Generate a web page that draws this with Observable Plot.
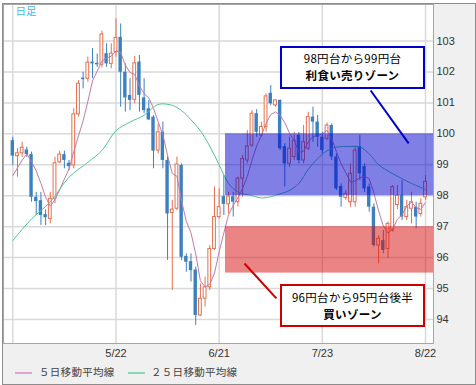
<!DOCTYPE html>
<html><head><meta charset="utf-8">
<script src="https://cdn.jsdelivr.net/npm/d3@7"></script>
<script src="https://cdn.jsdelivr.net/npm/@observablehq/plot@0.6"></script>
<style>
body{margin:0;background:#fff;}
#wrap{position:relative;width:476px;height:385px;overflow:hidden;font-family:"Liberation Sans",Arial,sans-serif;}
#bg{position:absolute;left:2px;top:3px;width:474px;height:382px;box-sizing:border-box;border:1px solid #8c8c8c;background:#f0f0f0;}
#chart{position:absolute;left:0;top:0;}
.box{position:absolute;box-sizing:border-box;border:2px solid;background:#fff;text-align:center;font-family:"Noto Sans CJK JP",sans-serif;font-size:11.5px;letter-spacing:0.3px;color:#000;line-height:16.8px;white-space:nowrap;}
.box div{height:16.8px;}
.box b{font-weight:700;}
.leg{position:absolute;font-family:"Noto Sans CJK JP",sans-serif;font-size:10.5px;letter-spacing:0.3px;color:#444;line-height:12px;white-space:nowrap;}
.legline{position:absolute;height:2px;}
</style></head>
<body>
<div id="wrap">
  <div id="bg"></div>
  <div id="chart"></div>
  <div class="box" style="left:280px;top:46px;width:145px;height:43px;border-color:#0000cc;padding-top:2px;"><div>98円台から99円台</div><div><b>利食い売りゾーン</b></div></div>
  <div class="box" style="left:280px;top:284px;width:145px;height:43px;border-color:#cc0000;padding-top:3px;"><div>96円台から95円台後半</div><div><b>買いゾーン</b></div></div>
  <div class="legline" style="left:15px;top:372px;width:17px;background:#dba6cc;"></div>
  <div class="leg" style="left:39px;top:366px;">５日移動平均線</div>
  <div class="legline" style="left:128px;top:372px;width:17px;background:#86dab6;"></div>
  <div class="leg" style="left:151px;top:366px;">２５日移動平均線</div>
</div>
<script>
// Daily candles (index 0 = 4/22 ... 88 = 8/22)
const open = [
99.78, 99.28, 99.37, 99.48, 99.33, 97.95, 97.84, 97.39, 97.25, 97.90,
99.08, 99.33, 99.05, 98.98, 100.63, 101.80, 101.78, 102.32, 102.28, 102.23,
102.59, 102.26, 102.64, 103.12, 101.99, 101.24, 101.10, 102.32, 101.16, 100.81,
100.54, 99.46, 100.05, 99.14, 97.44, 97.58, 98.98, 96.04, 95.87, 95.60,
94.13, 94.67, 95.04, 96.28, 97.31, 97.97, 97.72, 97.97, 97.79, 98.55,
99.14, 99.62, 100.65, 99.95, 100.22, 101.31, 100.92, 101.08, 99.59, 99.03,
99.25, 99.95, 99.14, 99.52, 100.54, 100.38, 99.89, 99.84, 100.27, 99.25,
98.30, 97.93, 97.79, 97.79, 99.59, 98.94, 98.28, 97.63, 96.39, 96.55,
96.28, 96.88, 97.70, 98.01, 97.31, 97.58, 97.63, 97.41, 97.95];
const high = [
99.89, 99.52, 99.73, 99.57, 99.41, 98.11, 98.11, 97.54, 98.11, 99.24,
99.44, 99.44, 99.14, 100.81, 101.72, 101.99, 102.48, 102.75, 102.58, 103.32,
102.91, 102.91, 103.72, 103.55, 102.26, 101.78, 102.50, 102.53, 101.78, 101.08,
100.59, 100.32, 100.38, 99.25, 97.85, 99.25, 99.03, 96.12, 96.12, 95.69,
95.15, 95.37, 96.39, 98.28, 98.22, 98.65, 98.11, 98.11, 98.60, 99.30,
100.11, 100.75, 100.78, 100.38, 101.29, 101.56, 101.10, 101.10, 99.68, 99.89,
100.05, 100.05, 100.27, 100.70, 100.86, 100.59, 100.05, 100.35, 100.32, 99.35,
98.38, 98.17, 99.03, 99.59, 99.95, 99.03, 98.38, 97.74, 96.71, 96.88,
97.15, 98.33, 98.33, 98.49, 97.85, 98.11, 97.79, 97.90, 98.65];
const low = [
98.98, 98.60, 99.24, 99.24, 97.79, 97.36, 97.04, 97.04, 97.09, 97.74,
99.03, 98.87, 98.81, 98.87, 100.54, 101.45, 101.67, 101.78, 102.15, 102.13,
102.15, 102.10, 102.48, 100.86, 100.70, 100.75, 100.97, 100.70, 100.65, 100.43,
98.87, 99.35, 98.87, 95.91, 94.94, 97.52, 95.91, 95.53, 95.21, 93.81,
94.10, 94.40, 94.94, 96.23, 97.25, 97.36, 97.41, 97.31, 97.63, 97.95,
99.03, 99.57, 99.89, 99.89, 100.05, 100.92, 100.86, 99.46, 98.28, 98.92,
99.14, 99.03, 99.03, 99.46, 99.73, 99.57, 99.35, 99.78, 99.14, 98.17,
97.63, 97.85, 97.63, 97.63, 98.49, 98.11, 97.47, 96.34, 95.80, 96.12,
95.96, 96.82, 97.55, 97.20, 97.20, 97.09, 96.93, 97.31, 97.85];
const close = [
99.28, 99.37, 99.55, 99.33, 97.95, 97.81, 97.36, 97.29, 97.90, 99.05,
99.33, 99.14, 98.94, 100.63, 101.62, 101.75, 102.30, 102.26, 102.23, 103.21,
102.26, 102.59, 103.10, 101.99, 101.16, 101.08, 102.28, 101.24, 100.75, 100.45,
99.44, 100.05, 99.14, 97.41, 97.55, 99.01, 96.01, 95.85, 95.58, 94.13,
94.67, 95.04, 96.28, 97.31, 97.63, 97.72, 97.97, 97.79, 98.55, 99.19,
99.59, 100.65, 100.05, 100.22, 101.21, 100.97, 101.08, 99.52, 99.03, 99.52,
99.78, 99.14, 99.73, 100.54, 100.38, 99.89, 99.46, 100.27, 99.25, 98.22,
97.95, 98.06, 98.71, 99.46, 98.71, 98.22, 97.63, 96.39, 96.61, 96.23,
97.09, 98.28, 98.00, 97.31, 97.63, 97.79, 97.31, 97.74, 98.45];
// 5-day moving average (one value per candle)
const ma5 = [
98.65, 98.90, 99.15, 99.35, 99.10, 98.80, 98.40, 97.95, 97.66, 97.88,
98.19, 98.54, 98.87, 99.42, 99.93, 100.42, 101.05, 101.71, 102.03, 102.35,
102.45, 102.51, 102.68, 102.63, 102.22, 101.98, 101.92, 101.55, 101.30, 101.16,
100.83, 100.39, 99.97, 99.30, 98.72, 98.63, 97.82, 97.17, 96.80, 96.12,
95.25, 95.05, 95.14, 95.49, 96.19, 96.80, 97.38, 97.68, 97.93, 98.24,
98.62, 99.15, 99.61, 99.94, 100.34, 100.62, 100.71, 100.60, 100.36, 100.02,
99.79, 99.40, 99.44, 99.74, 99.91, 99.94, 100.00, 100.11, 99.85, 99.42,
99.03, 98.75, 98.44, 98.48, 98.58, 98.63, 98.55, 98.08, 97.51, 97.02,
96.79, 96.92, 97.24, 97.38, 97.66, 97.80, 97.61, 97.56, 97.78];
// 25-day moving average, read at these candle positions
const ma25Pos = [0,4,8,12,16,19,22,25,28,31,34,36,38,40,42,44,46,48,51,53,55,57,59,61,63,65,67,69,72,74,76,78,80,83,85,88];
const ma25Val = [96.55,97.25,97.80,98.60,99.08,99.46,100.10,100.38,100.60,100.95,100.92,100.75,100.45,100.10,99.60,99.00,98.40,98.12,98.00,97.93,97.97,98.06,98.17,98.40,98.85,99.20,99.45,99.57,99.59,99.58,99.35,99.00,98.80,98.55,98.40,98.20];
const xTickPos = [0, 22, 44, 66, 88];
const xTickLabels = ["", "5/22", "6/21", "7/23", "8/22"];
const yTicks = [94, 95, 96, 97, 98, 99, 100, 101, 102, 103];
// zones (price bands) starting between candles 45 and 46
const zoneStart = 45.35;
const zoneLow = [98, 95.5];
const zoneHigh = [100, 97];
const zoneColor = ["rgb(0,0,205)", "rgb(215,10,10)"];
// leader lines from the zones to the callouts [pos1, price1, pos2, price2]
const leaderBlue = [76.3, 101.40, 84.4, 99.69];
const leaderRed = [49.4, 95.81, 56.2, 94.68];

const RISE = "#e4704e", FALL = "#3b80bf";
const candles = open.map((o, i) => ({i, o, h: high[i], l: low[i], c: close[i]}));
const up = candles.filter(d => d.c >= d.o);
const dn = candles.filter(d => d.c < d.o);
const ma5Data = ma5.map((v, i) => ({i, v}));
const ma25Data = ma25Pos.map((p, k) => ({i: p, v: ma25Val[k]}));
const xMax = 89.7;
const zones = zoneLow.map((lo, k) => ({x1: zoneStart, x2: xMax, y1: lo, y2: zoneHigh[k]}));

const chart = Plot.plot({
  width: 476, height: 385,
  marginLeft: 3, marginRight: 43, marginTop: 4, marginBottom: 42,
  style: {background: "transparent", fontFamily: "'Liberation Sans', Arial, sans-serif", fontSize: "11px", color: "#333"},
  x: {domain: [-1.98, xMax], axis: null},
  y: {domain: [93.224, 104.18], axis: null},
  marks: [
    Plot.frame({fill: "white"}),
    Plot.gridY(yTicks, {stroke: "#d9d9d9", strokeOpacity: 1, strokeWidth: 1.5}),
    Plot.gridX(xTickPos, {stroke: "#d9d9d9", strokeOpacity: 1, strokeWidth: 1.5}),
    Plot.ruleX(up, {x: "i", y1: "l", y2: "h", stroke: RISE, strokeWidth: 1}),
    Plot.ruleX(dn, {x: "i", y1: "l", y2: "h", stroke: FALL, strokeWidth: 1}),
    Plot.rect(up, {x1: d => d.i - 0.3, x2: d => d.i + 0.3, y1: "o", y2: "c", fill: "white", stroke: RISE, strokeWidth: 1}),
    Plot.rect(dn, {x1: d => d.i - 0.36, x2: d => d.i + 0.36, y1: "o", y2: "c", fill: FALL}),
    Plot.line(ma5Data, {x: "i", y: "v", stroke: "#c27aaa", strokeWidth: 1}),
    Plot.line(ma25Data, {x: "i", y: "v", stroke: "#4cc78f", strokeWidth: 1, curve: "catmull-rom"}),
    Plot.rect(zones.slice(0,1), {x1: "x1", x2: "x2", y1: "y1", y2: "y2", fill: zoneColor[0], fillOpacity: 0.5}),
    Plot.rect(zones.slice(1,2), {x1: "x1", x2: "x2", y1: "y1", y2: "y2", fill: zoneColor[1], fillOpacity: 0.5}),
    Plot.link([leaderBlue], {x1: d => d[0], y1: d => d[1], x2: d => d[2], y2: d => d[3], stroke: "#0000cc", strokeWidth: 2}),
    Plot.link([leaderRed], {x1: d => d[0], y1: d => d[1], x2: d => d[2], y2: d => d[3], stroke: "#cc0000", strokeWidth: 2}),
    Plot.frame({stroke: "#a6a6a6"}),
    Plot.axisY(yTicks, {anchor: "right", tickSize: 0, tickPadding: 3, fill: "#333", fontSize: 11}),
    Plot.axisX(xTickPos, {anchor: "bottom", tickSize: 0, tickPadding: 6, fill: "#333", fontSize: 11,
      tickFormat: d => xTickLabels[xTickPos.indexOf(d)]}),
    Plot.text(["日足"], {frameAnchor: "top-left", dx: 12, dy: 3, text: d => d, textAnchor: "start", lineAnchor: "top",
      fill: "#45b6ea", fontSize: 10.5, fontFamily: "'Noto Sans CJK JP', sans-serif"})
  ]
});
document.getElementById("chart").appendChild(chart);
</script>
</body></html>
